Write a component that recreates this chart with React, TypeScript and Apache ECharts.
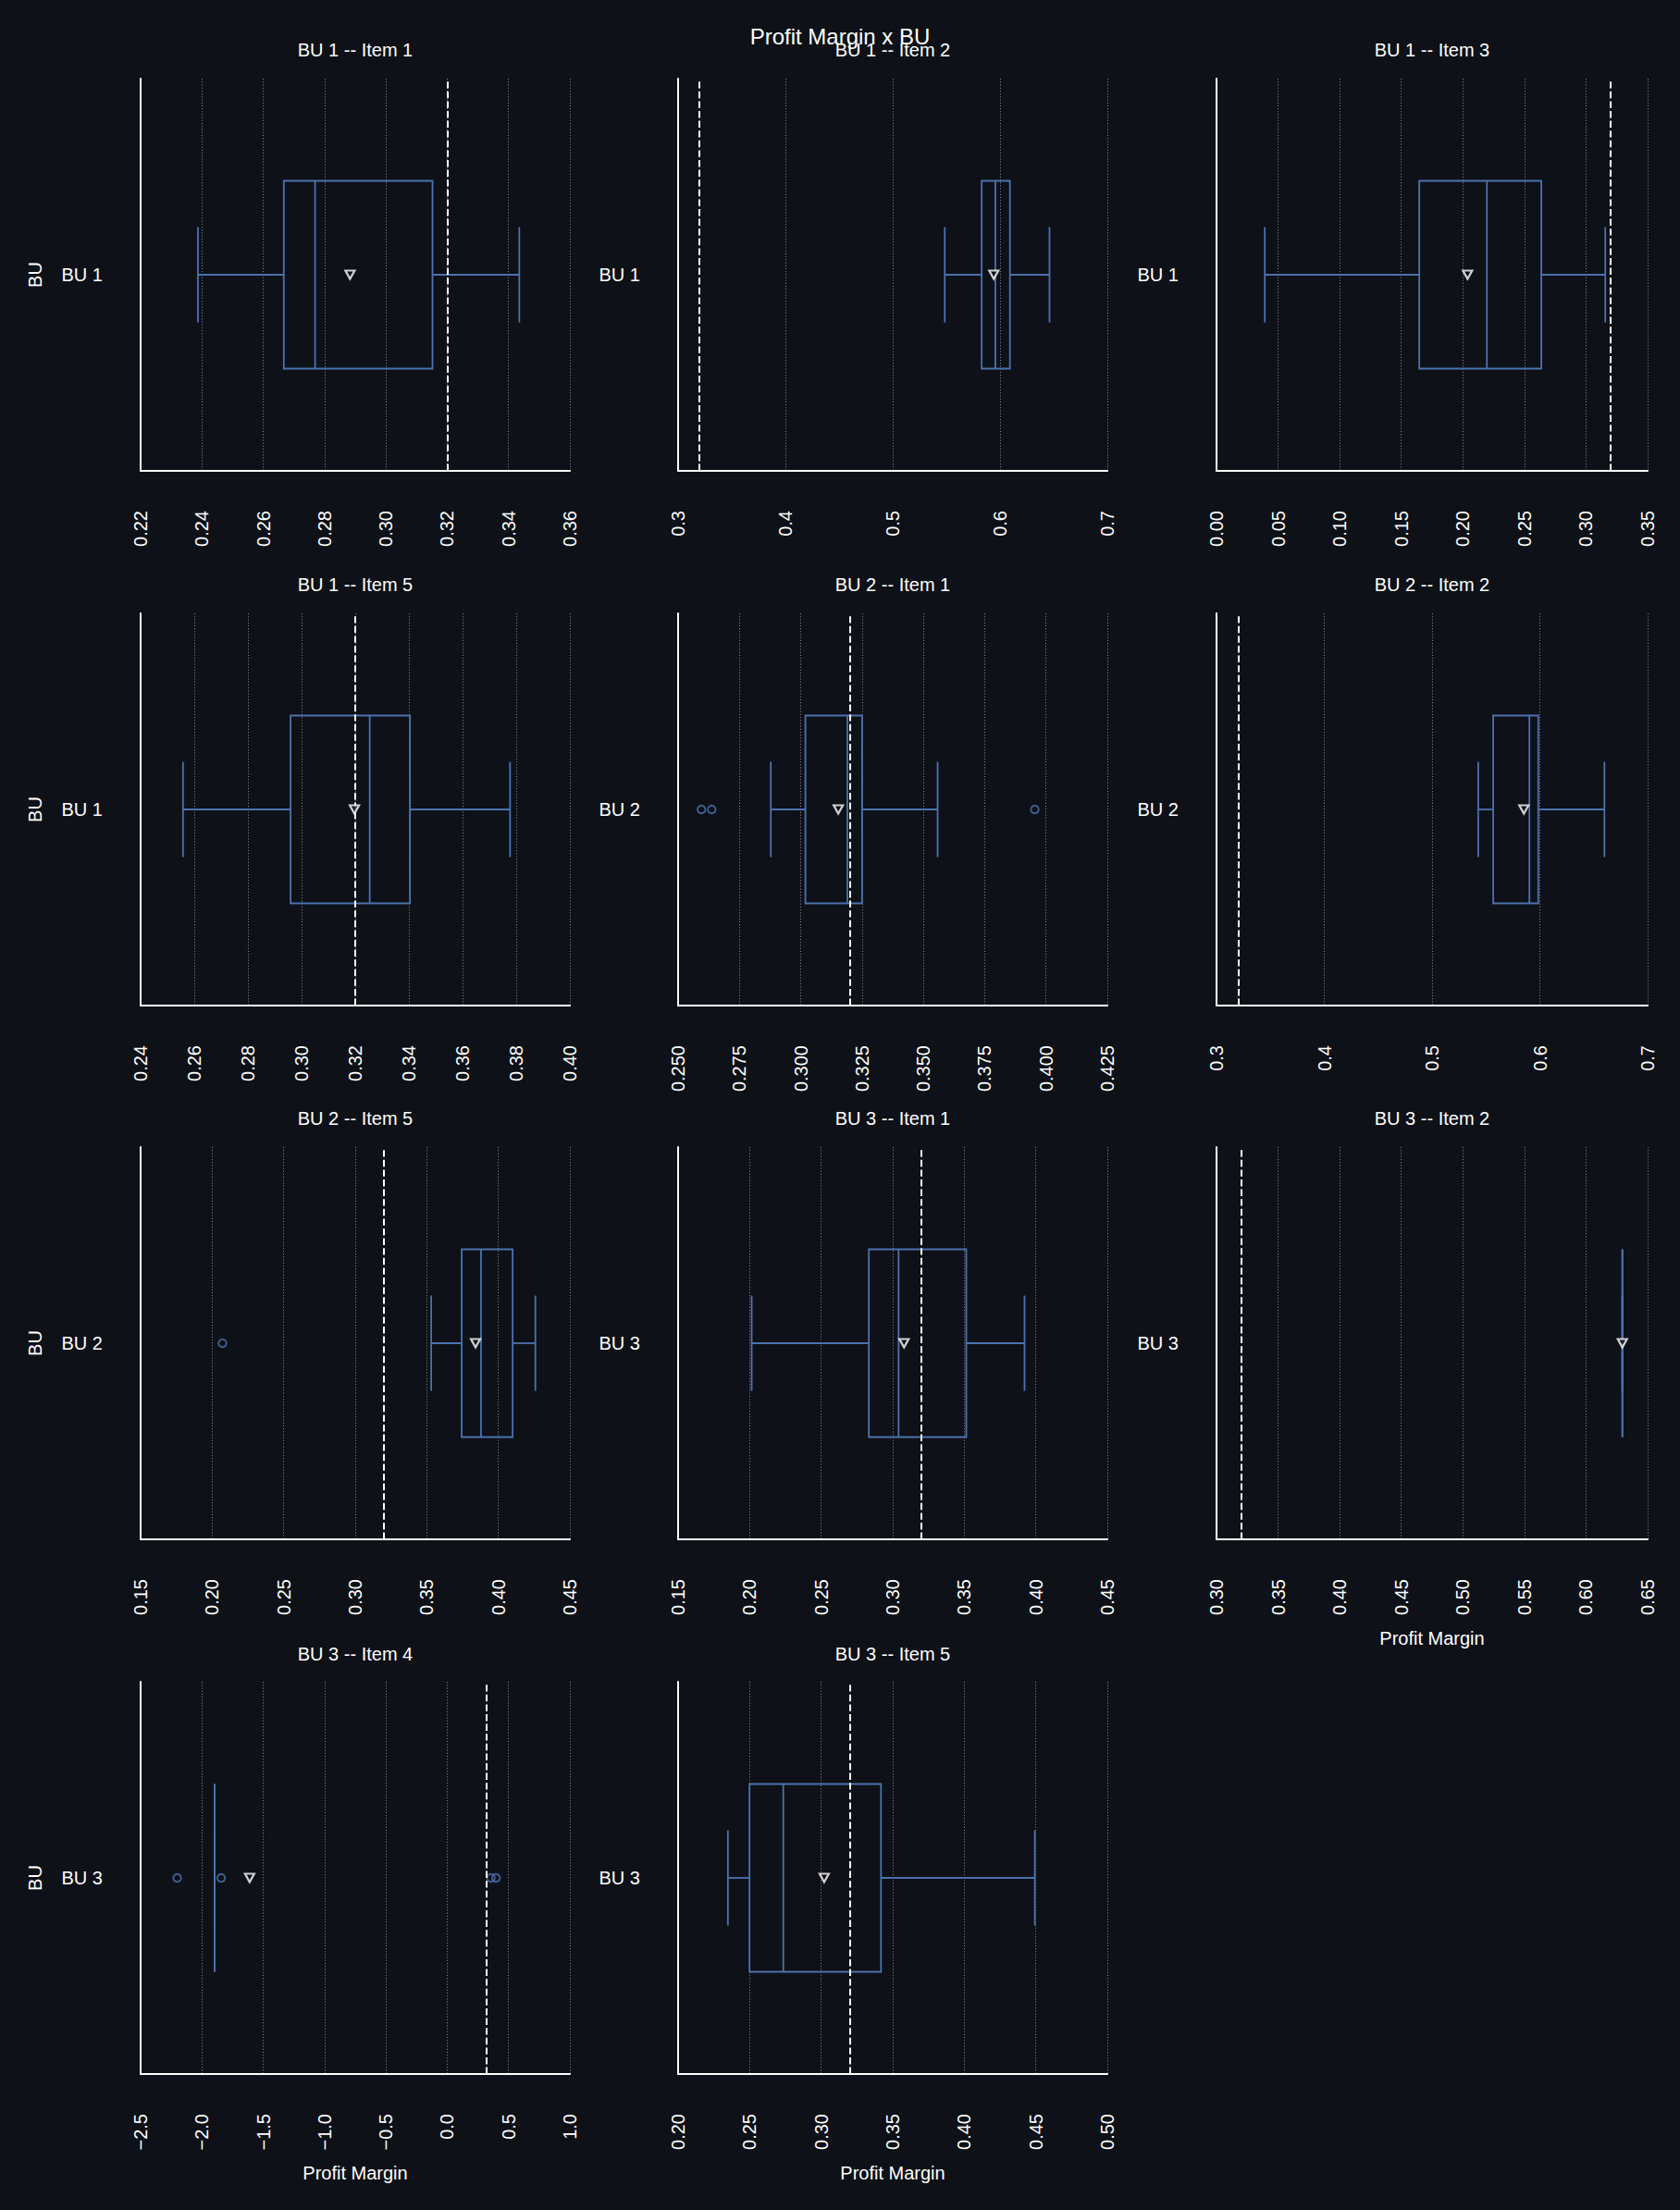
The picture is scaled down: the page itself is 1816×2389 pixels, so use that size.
import React, { useEffect, useRef } from "react";
import * as echarts from "echarts";

// ---------------- data ----------------
const mainTitle = "Profit Margin x BU";
const xAxisName = "Profit Margin";
const yAxisName = "BU";

const panelTitles = [
  "BU 1 -- Item 1",
  "BU 1 -- Item 2",
  "BU 1 -- Item 3",
  "BU 1 -- Item 5",
  "BU 2 -- Item 1",
  "BU 2 -- Item 2",
  "BU 2 -- Item 5",
  "BU 3 -- Item 1",
  "BU 3 -- Item 2",
  "BU 3 -- Item 4",
  "BU 3 -- Item 5",
];
const panelCategories = ["BU 1", "BU 1", "BU 1", "BU 1", "BU 2", "BU 2", "BU 2", "BU 3", "BU 3", "BU 3", "BU 3"];

// [lower whisker, Q1, median, Q3, upper whisker]
const boxStats: number[][] = [
  [0.2387, 0.2667, 0.2769, 0.3152, 0.3435],
  [0.5485, 0.5829, 0.5956, 0.6092, 0.6461],
  [0.0392, 0.1646, 0.2195, 0.2637, 0.3156],
  [0.2558, 0.2959, 0.3254, 0.3404, 0.3777],
  [0.2878, 0.3019, 0.319, 0.325, 0.3558],
  [0.5428, 0.5567, 0.5903, 0.5985, 0.6599],
  [0.3531, 0.3744, 0.3879, 0.41, 0.4259],
  [0.2014, 0.2833, 0.3041, 0.3514, 0.3921],
  [0.6295, 0.6295, 0.6295, 0.6295, 0.6295],
  [-1.897, -1.897, -1.897, -1.897, -1.897],
  [0.2348, 0.2499, 0.2735, 0.3418, 0.4493],
];
const means = [0.2883, 0.5942, 0.2038, 0.3197, 0.3153, 0.5852, 0.3841, 0.3079, 0.6295, -1.611, 0.3021];
const outliers: number[][] = [
  [],
  [],
  [],
  [],
  [0.2595, 0.2637, 0.3954],
  [],
  [0.2072],
  [],
  [],
  [-2.2016, -1.8435, 0.356, 0.3977],
  [],
];
const referenceValue = 0.3213;

const axisMin = [0.22, 0.3, 0.0, 0.24, 0.25, 0.3, 0.15, 0.15, 0.3, -2.5, 0.2];
const axisMax = [0.36, 0.7, 0.35, 0.4, 0.425, 0.7, 0.45, 0.45, 0.65, 1.0, 0.5];
const axisStep = [0.02, 0.1, 0.05, 0.02, 0.025, 0.1, 0.05, 0.05, 0.05, 0.5, 0.05];
const axisDecimals = [2, 1, 2, 2, 3, 1, 2, 2, 2, 1, 2];

// ---------------- layout / style ----------------
const W = 1816;
const H = 2389;
const BG = "#0e1117";
const BOX_COLOR = "#4c72b0";
const FONT = '"Liberation Sans", Arial, sans-serif';
const colLeft = [152, 733, 1315];
const colWidth = [464, 464, 466];
const rowTop = [85, 663, 1240, 1818];
const rowHeight = 424;
const titleY = [54, 632, 1209, 1788];

const renderBox = (params: any, api: any) => {
  const cat = api.value(0);
  const vals = [1, 2, 3, 4, 5].map((d) => api.value(d));
  const band = api.size([0, 1])[1];
  const hb = band * 0.2394;
  const hc = band * 0.1215;
  const p = vals.map((v) => api.coord([v, cat]));
  const y = p[0][1];
  const style = { stroke: BOX_COLOR, fill: "none", lineWidth: 1.8 };
  return {
    type: "group",
    children: [
      { type: "line", shape: { x1: p[0][0], y1: y, x2: p[1][0], y2: y }, style },
      { type: "line", shape: { x1: p[3][0], y1: y, x2: p[4][0], y2: y }, style },
      { type: "line", shape: { x1: p[0][0], y1: y - hc, x2: p[0][0], y2: y + hc }, style },
      { type: "line", shape: { x1: p[4][0], y1: y - hc, x2: p[4][0], y2: y + hc }, style },
      {
        type: "rect",
        shape: { x: p[1][0], y: y - hb, width: p[3][0] - p[1][0], height: 2 * hb },
        style,
      },
      { type: "line", shape: { x1: p[2][0], y1: y - hb, x2: p[2][0], y2: y + hb }, style },
    ],
  };
};

function buildOption() {
  const grids: any[] = [];
  const xAxes: any[] = [];
  const yAxes: any[] = [];
  const series: any[] = [];
  const graphics: any[] = [];

  graphics.push({
    type: "text",
    x: W / 2,
    y: 39,
    z: 10,
    style: {
      text: mainTitle,
      fill: "#ffffff",
      fontSize: 24,
      fontFamily: FONT,
      align: "center",
      verticalAlign: "middle",
    },
  });

  panelTitles.forEach((title, i) => {
    const row = Math.floor(i / 3);
    const col = i % 3;
    grids.push({
      left: colLeft[col],
      top: rowTop[row],
      width: colWidth[col],
      height: rowHeight,
      containLabel: false,
    });
    graphics.push({
      type: "text",
      x: colLeft[col] + colWidth[col] / 2,
      y: titleY[row],
      style: {
        text: title,
        fill: "#ffffff",
        fontSize: 20,
        fontFamily: FONT,
        align: "center",
        verticalAlign: "middle",
      },
    });
    const dec = axisDecimals[i];
    const showXName = i >= 8;
    xAxes.push({
      type: "value",
      gridIndex: i,
      min: axisMin[i],
      max: axisMax[i],
      interval: axisStep[i],
      name: showXName ? xAxisName : "",
      nameLocation: "middle",
      nameGap: 97,
      nameTextStyle: { color: "#ffffff", fontSize: 20, fontFamily: FONT },
      axisLine: { show: true, onZero: false, lineStyle: { color: "#ffffff", width: 2 } },
      axisTick: { show: false },
      axisLabel: {
        rotate: 90,
        margin: 43,
        color: "#ffffff",
        fontSize: 20,
        fontFamily: FONT,
        showMinLabel: true,
        showMaxLabel: true,
        hideOverlap: false,
        formatter: (v: number) => v.toFixed(dec).replace("-", "\u2212"),
      },
      splitLine: {
        show: true,
        lineStyle: { color: "rgba(160,160,160,0.75)", width: 1, type: [1.2, 2] },
      },
    });
    const showYName = col === 0;
    yAxes.push({
      type: "category",
      gridIndex: i,
      data: [panelCategories[i]],
      name: showYName ? yAxisName : "",
      nameLocation: "middle",
      nameRotate: 90,
      nameGap: 104,
      nameTextStyle: { color: "#ffffff", fontSize: 20, fontFamily: FONT },
      axisLine: { show: true, onZero: false, lineStyle: { color: "#ffffff", width: 2 } },
      axisTick: { show: false },
      axisLabel: { color: "#ffffff", fontSize: 20, fontFamily: FONT, margin: 41 },
      splitLine: { show: false },
    });

    series.push({
      type: "custom",
      name: `box-${i}`,
      xAxisIndex: i,
      yAxisIndex: i,
      renderItem: renderBox,
      encode: { x: [1, 2, 3, 4, 5], y: 0 },
      data: [[0, ...boxStats[i]]],
      z: 3,
      silent: true,
    });
    series.push({
      type: "scatter",
      name: `outliers-${i}`,
      xAxisIndex: i,
      yAxisIndex: i,
      symbol: "circle",
      symbolSize: 8.5,
      itemStyle: { color: "rgba(0,0,0,0)", borderColor: BOX_COLOR, borderWidth: 1.9 },
      data: outliers[i].map((v) => [v, 0]),
      z: 4,
      silent: true,
    });
    series.push({
      type: "scatter",
      name: `mean-${i}`,
      xAxisIndex: i,
      yAxisIndex: i,
      symbol: "triangle",
      symbolRotate: 180,
      symbolSize: [10, 9],
      itemStyle: { color: BG, borderColor: "#ffffff", borderWidth: 2.2 },
      data: [[means[i], 0]],
      z: 6,
      silent: true,
      markLine: {
        silent: true,
        symbol: ["none", "none"],
        label: { show: false },
        lineStyle: { color: "#ffffff", width: 2, type: [7.4, 3.2] },
        data: [{ xAxis: referenceValue }],
        z: 5,
      },
    });
  });

  return {
    animation: false,
    backgroundColor: BG,
    textStyle: { fontFamily: FONT },
    grid: grids,
    xAxis: xAxes,
    yAxis: yAxes,
    series,
    graphic: graphics,
  };
}

export default function App() {
  const ref = useRef<HTMLDivElement>(null);
  useEffect(() => {
    document.body.style.margin = "0";
    document.body.style.background = BG;
    if (!ref.current) return;
    const chart = echarts.init(ref.current, undefined, { renderer: "svg", width: W, height: H });
    chart.setOption(buildOption() as any);
    return () => {
      chart.dispose();
    };
  }, []);
  return <div ref={ref} style={{ width: W, height: H, background: BG }} />;
}
